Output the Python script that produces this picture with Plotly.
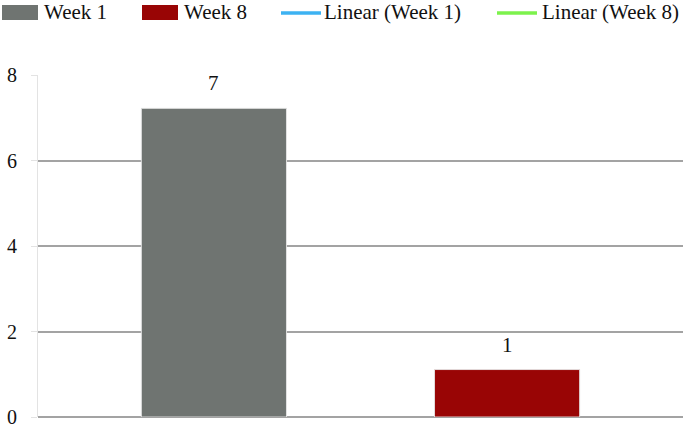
import plotly.graph_objects as go

# data
weeks = ["Week 1", "Week 8"]
values = [7.22, 1.11]
labels = ["7", "1"]
bar_colors = ["#6f7471", "#990505"]
trend_names = ["Linear (Week 1)", "Linear (Week 8)"]
trend_colors = ["#3cb2f2", "#7cf24c"]
y_ticks = [0, 2, 4, 6, 8]

W, H = 685, 428
ml, mr, mt, mb = 38, 2, 75, 11
pw, ph = W - ml - mr, H - mt - mb


def px_x(x):
    # window pixels -> paper fraction
    return (x - ml) / pw


def px_y(y):
    return (H - mb - y) / ph


SERIF = "Liberation Serif"

fig = go.Figure()
fig.add_trace(go.Bar(
    x=weeks, y=values, marker_color=bar_colors,
    marker_line=dict(color="rgba(230,230,230,0.9)", width=1),
    showlegend=False,
))

# value labels above the bars
for w, v, t in zip(weeks, values, labels):
    fig.add_annotation(x=w, y=v, text=t, showarrow=False, yanchor="bottom",
                       yshift=11, font=dict(family=SERIF, size=21, color="#111"))

# hand made legend (wide swatches like the original)
shapes = []
font = dict(family=SERIF, size=21, color="#111")
leg_y = 12
for name, col, x0, tx in zip(weeks, bar_colors, [2, 142], [42, 182]):
    shapes.append(dict(type="rect", xref="paper", yref="paper",
                       x0=px_x(x0), x1=px_x(x0 + 36), y0=px_y(20), y1=px_y(5),
                       fillcolor=col, line=dict(width=0)))
    fig.add_annotation(xref="paper", yref="paper", x=px_x(tx), y=px_y(leg_y),
                       text=name, showarrow=False, xanchor="left", yanchor="middle",
                       font=font)
for name, col, x0, tx in zip(trend_names, trend_colors, [281, 497], [322, 540]):
    shapes.append(dict(type="line", xref="paper", yref="paper",
                       x0=px_x(x0), x1=px_x(x0 + 40), y0=px_y(13), y1=px_y(13),
                       line=dict(color=col, width=3.5)))
    fig.add_annotation(xref="paper", yref="paper", x=px_x(tx), y=px_y(leg_y),
                       text=name, showarrow=False, xanchor="left", yanchor="middle",
                       font=font)

fig.update_layout(
    width=W, height=H,
    margin=dict(l=ml, r=mr, t=mt, b=mb),
    paper_bgcolor="white", plot_bgcolor="white",
    font=dict(family=SERIF, size=20, color="#111"),
    bargap=0.505,
    showlegend=False,
    shapes=shapes,
)
fig.update_xaxes(range=[-0.6, 1.6], showticklabels=False, showgrid=False,
                 zeroline=False, showline=False, ticks="")
fig.update_yaxes(range=[0, 8], tickvals=y_ticks, showgrid=True,
                 gridcolor="#a3a3a3", gridwidth=2, zeroline=True,
                 zerolinecolor="#a3a3a3", zerolinewidth=2,
                 showline=True, linecolor="#e3e3e3", linewidth=1,
                 ticks="outside", ticklen=6, tickcolor="#e3e3e3",
                 ticklabelstandoff=10, automargin=False)

fig.write_html("out.html", config={"displayModeBar": False},
               post_script="document.body.style.margin='0';")
